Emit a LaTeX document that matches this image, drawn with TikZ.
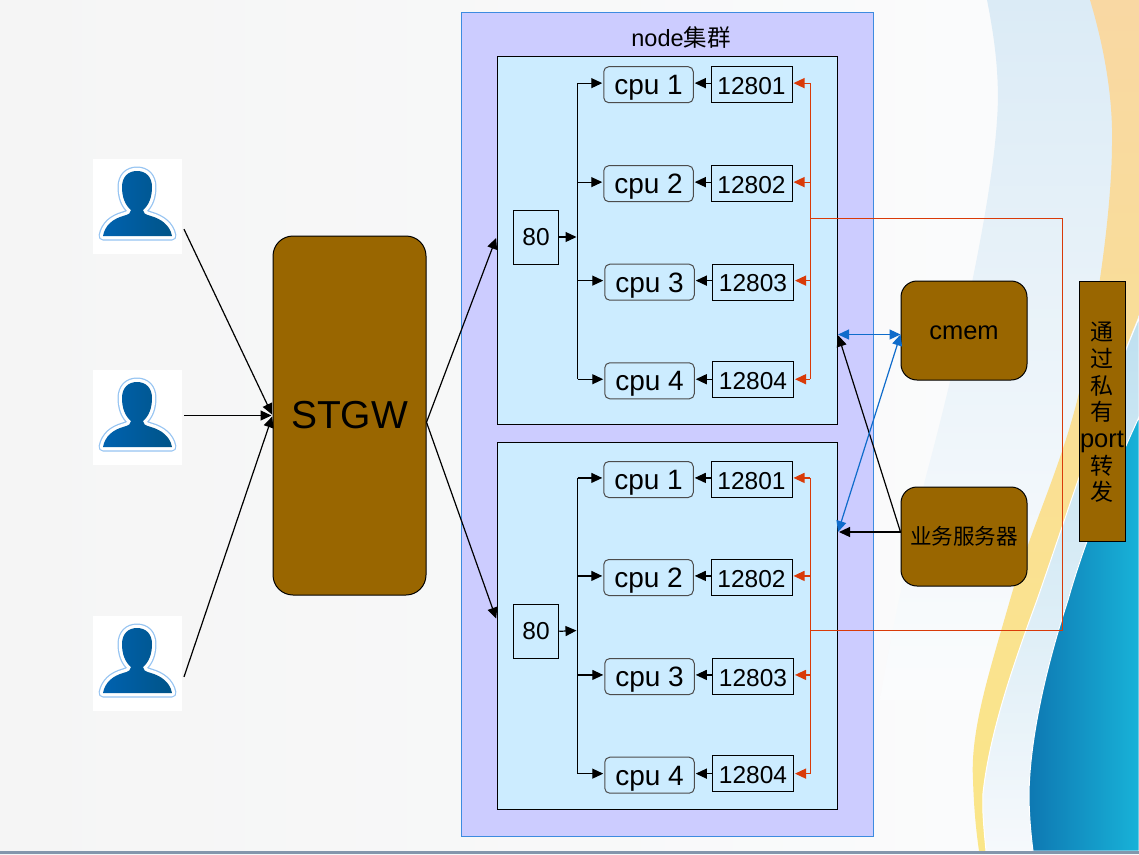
\documentclass[tikz,border=0pt]{standalone}
\usepackage{fontspec}
\setmainfont{Liberation Sans}
\newfontfamily\cjk{Noto Sans CJK SC}
\usetikzlibrary{arrows.meta}
\definecolor{brownfill}{HTML}{996600}
\definecolor{panelblue}{HTML}{CCECFF}
\definecolor{clusterfill}{HTML}{CCCCFF}
\definecolor{redline}{HTML}{D93A08}
\definecolor{blueline}{HTML}{0F6CCB}
\definecolor{bgleft}{HTML}{F5F5F5}
\definecolor{bgright}{HTML}{FBFCFD}
\newcommand{\fwchar}[1]{{\cjk\fontsize{23}{26.7}\selectfont #1}}
\newcommand{\personpath}{(10,77) .. controls (12,66) and (20,60) .. (30,57) .. controls (36,55.5) and (38,54) .. (38,51) .. controls (32,46) and (29,38) .. (29,28) .. controls (29,18) and (35,12) .. (44,12) .. controls (53,12) and (59,18) .. (59,28) .. controls (59,38) and (56,46) .. (50,51) .. controls (50,54) and (52,55.5) .. (58,57) .. controls (68,60) and (77,66) .. (79,77) -- cycle}
\tikzset{
  panel/.style={draw=black,line width=1pt,fill=panelblue,minimum width=340pt,inner sep=0pt},
  cpubox/.style={draw=black!70,line width=1pt,rounded corners=5pt,minimum width=89.5pt,minimum height=36pt,inner sep=0pt,text height=20pt,text depth=0pt,font=\fontsize{28}{30}\selectfont},
  portbox/.style={draw=black,line width=1pt,minimum width=81pt,minimum height=36pt,inner sep=0pt,text height=19.4pt,text depth=0pt,font=\fontsize{24.5}{26}\selectfont},
  webport/.style={draw=black,line width=1pt,minimum width=45.5pt,minimum height=54pt,inner sep=0pt,font=\fontsize{24.5}{27}\selectfont},
  brownbox/.style={draw=black,line width=1pt,fill=brownfill,rounded corners=16pt,minimum width=126pt,minimum height=99pt,inner sep=0pt},
  userbox/.style={fill=white,minimum width=89pt,minimum height=95pt,inner sep=0pt,outer sep=2pt},
  conn/.style={draw=black,line width=1.2pt,-{Triangle[length=11pt,width=10pt]},shorten >=1pt},
  redconn/.style={draw=redline,line width=1.2pt,-{Triangle[length=11pt,width=10pt]},shorten >=1pt},
  blueconn/.style={draw=blueline,line width=1.2pt,{Triangle[length=11pt,width=10pt]}-{Triangle[length=11pt,width=10pt]}},
  usericon/.pic={
    \draw[color={rgb,255:red,150;green,196;blue,242},line width=9pt,line join=round] \personpath;
    \draw[white,line width=6.5pt,line join=round] \personpath;
    \shade[left color={rgb,255:red,0;green,98;blue,176},right color={rgb,255:red,0;green,84;blue,136}] \personpath;
  }
}
\begin{document}
\begin{tikzpicture}[x=1pt,y=-1pt]
\useasboundingbox (0,0) rectangle (1139,854);
% slide background
\shade[left color=bgleft,right color=bgright] (0,0) rectangle (1139,854);
\shade[top color={rgb,255:red,219;green,235;blue,246},bottom color=bgright] (987,0) .. controls (995,40) and (1000,80) .. (997,120) .. controls (992,200) and (960,350) .. (925,480) .. controls (905,570) and (890,640) .. (880,700) -- (1139,700) -- (1139,0) -- cycle;
\shade[top color={rgb,255:red,249;green,216;blue,163},bottom color={rgb,255:red,250;green,230;blue,136}] (1090,0) .. controls (1105,50) and (1113,100) .. (1112,143) .. controls (1112,200) and (1100,300) .. (1078,397) .. controls (1060,470) and (1030,530) .. (1010,600) .. controls (990,670) and (970,730) .. (973,780) .. controls (974,810) and (976,830) .. (979,851) -- (986,851) .. controls (984,830) and (982,810) .. (983,793) .. controls (990,730) and (1015,660) .. (1037,600) .. controls (1065,520) and (1100,410) .. (1139,315) -- (1139,0) -- cycle;
\shade[top color={rgb,255:red,190;green,224;blue,240},bottom color={rgb,255:red,246;green,249;blue,252},draw=white,line width=1pt] (1139,318) .. controls (1100,410) and (1065,520) .. (1037,600) .. controls (1015,660) and (990,730) .. (983,793) .. controls (982,810) and (984,830) .. (986,851) -- (1139,851) -- cycle;
\shade[left color={rgb,255:red,14;green,120;blue,178},right color={rgb,255:red,24;green,178;blue,216},draw=white,line width=1pt] (1139,417) .. controls (1110,480) and (1085,540) .. (1068,600) .. controls (1045,670) and (1030,740) .. (1029,793) .. controls (1029,815) and (1031,835) .. (1033,851) -- (1139,851) -- cycle;
\fill[color={rgb,255:red,131;green,150;blue,172}] (0,851) rectangle (1139,854);
% cluster and panels
\node[draw={rgb,255:red,61;green,139;blue,224},line width=1pt,fill=clusterfill,minimum width=412pt,minimum height=824pt,inner sep=0pt] (cluster) at (667,424) {};
\node[font=\fontsize{23.5}{25}\selectfont] (title) at (681,38) {node{\cjk 集群}};
\node[panel,minimum height=368pt] (panel1) at (667,240) {};
\node[panel,minimum height=367pt] (panel2) at (667,625.5) {};
% users
\node[userbox] (user1) at (137.5,206.5) {};
\node[userbox] (user2) at (137.5,417.5) {};
\node[userbox] (user3) at (137.5,663.5) {};
\pic at (93,159) {usericon};
\pic at (93,370) {usericon};
\pic at (93,616) {usericon};
% brown boxes
\node[brownbox,minimum width=153pt,minimum height=359pt,rounded corners=20pt,font=\fontsize{39}{41}\selectfont] (stgw) at (349.5,415.5) {STGW};
\node[brownbox,text height=19.2pt,font=\fontsize{25.5}{28}\selectfont] (cmem) at (964,330.5) {cmem};
\node[brownbox,font=\cjk\fontsize{21.6}{24}\selectfont] (biz) at (964,536.5) {业务服务器};
\node[draw=black,line width=1pt,fill=brownfill,minimum width=46pt,minimum height=260pt,inner sep=0pt] (forward) at (1102,411) {};
\node[inner sep=0pt,align=center,font=\fontsize{25.5}{26.7}\selectfont] (forwardtext) at (1102,412.5) {\fwchar{通}\\\fwchar{过}\\\fwchar{私}\\\fwchar{有}\\port\\\fwchar{转}\\\fwchar{发}};
% upper node
\node[webport] (web1) at (536,237) {80};
\node[cpubox] (cpu11) at (648.5,84.7) {cpu 1};
\node[cpubox] (cpu12) at (648.5,183.7) {cpu 2};
\node[cpubox] (cpu13) at (649.5,282.2) {cpu 3};
\node[cpubox] (cpu14) at (649.5,380.8) {cpu 4};
\node[portbox] (port11) at (751.5,84.3) {12801};
\node[portbox] (port12) at (751.5,183.7) {12802};
\node[portbox] (port13) at (753,282) {12803};
\node[portbox] (port14) at (753,379.5) {12804};
% lower node
\node[webport] (web2) at (536,631.3) {80};
\node[cpubox] (cpu21) at (648.5,479.5) {cpu 1};
\node[cpubox] (cpu22) at (648.5,577.5) {cpu 2};
\node[cpubox] (cpu23) at (649.5,676.5) {cpu 3};
\node[cpubox] (cpu24) at (649.5,775.2) {cpu 4};
\node[portbox] (port21) at (751.5,479.5) {12801};
\node[portbox] (port22) at (751.5,577.5) {12802};
\node[portbox] (port23) at (753,676.5) {12803};
\node[portbox] (port24) at (753,773.8) {12804};
% junction points
\coordinate (bus1) at (577.5,237);
\coordinate (bus2) at (577.5,630.5);
\coordinate (red1) at (810,218);
\coordinate (red2) at (810,630);
\coordinate (hook1) at (1062,218);
\coordinate (hook2) at (1062,630);
\coordinate (cmemin) at (900.5,334.5);
\coordinate (bizout) at (900.5,532);
\coordinate (pan1in) at (838,334.5);
\coordinate (pan2in) at (838,532);
% users to STGW to nodes
\draw[conn] (user1.-26) -- (stgw.west);
\draw[conn] (user2.east |- stgw.west) -- (stgw.west);
\draw[conn] (user3.-16) -- (stgw.west);
\draw[conn] (stgw.-5.6) -- (panel1.west |- web1.west);
\draw[conn] (stgw.-5.6) -- (panel2.178);
% upper node wiring
\draw[conn] (web1.east) -- (bus1);
\draw[draw=black,line width=1pt] (bus1 |- cpu11.178) -- (bus1 |- cpu14.178);
\draw[conn] (bus1 |- cpu11.178) -- (cpu11.178);
\draw[conn] (bus1 |- cpu12.178) -- (cpu12.178);
\draw[conn] (bus1 |- cpu13.178) -- (cpu13.178);
\draw[conn] (bus1 |- cpu14.178) -- (cpu14.178);
\draw[conn] (port11.west |- cpu11.2) -- (cpu11.2);
\draw[conn] (port12.west |- cpu12.2) -- (cpu12.2);
\draw[conn] (port13.west |- cpu13.2) -- (cpu13.2);
\draw[conn] (port14.west |- cpu14.2) -- (cpu14.2);
\draw[draw=redline,line width=1pt] (red1 |- cpu11.2) -- (red1 |- cpu14.2);
\draw[redconn] (red1 |- cpu11.2) -- (port11.east |- cpu11.2);
\draw[redconn] (red1 |- cpu12.2) -- (port12.east |- cpu12.2);
\draw[redconn] (red1 |- cpu13.2) -- (port13.east |- cpu13.2);
\draw[redconn] (red1 |- cpu14.2) -- (port14.east |- cpu14.2);
% lower node wiring
\draw[conn] (web2.east) -- (bus2);
\draw[draw=black,line width=1pt] (bus2 |- cpu21.178) -- (bus2 |- cpu24.178);
\draw[conn] (bus2 |- cpu21.178) -- (cpu21.178);
\draw[conn] (bus2 |- cpu22.178) -- (cpu22.178);
\draw[conn] (bus2 |- cpu23.178) -- (cpu23.178);
\draw[conn] (bus2 |- cpu24.178) -- (cpu24.178);
\draw[conn] (port21.west |- cpu21.2) -- (cpu21.2);
\draw[conn] (port22.west |- cpu22.2) -- (cpu22.2);
\draw[conn] (port23.west |- cpu23.2) -- (cpu23.2);
\draw[conn] (port24.west |- cpu24.2) -- (cpu24.2);
\draw[draw=redline,line width=1pt] (red2 |- cpu21.2) -- (red2 |- cpu24.2);
\draw[redconn] (red2 |- cpu21.2) -- (port21.east |- cpu21.2);
\draw[redconn] (red2 |- cpu22.2) -- (port22.east |- cpu22.2);
\draw[redconn] (red2 |- cpu23.2) -- (port23.east |- cpu23.2);
\draw[redconn] (red2 |- cpu24.2) -- (port24.east |- cpu24.2);
% private port loop
\draw[draw=redline,line width=0.9pt] (red1) -- (hook1) -- (hook2) -- (red2);
% cmem and business server
\draw[conn] (bizout) -- (pan1in);
\draw[conn] (bizout) -- (pan2in);
\draw[blueconn] (pan1in) -- (cmemin);
\draw[blueconn] (pan2in) -- (cmemin);
\end{tikzpicture}
\end{document}
